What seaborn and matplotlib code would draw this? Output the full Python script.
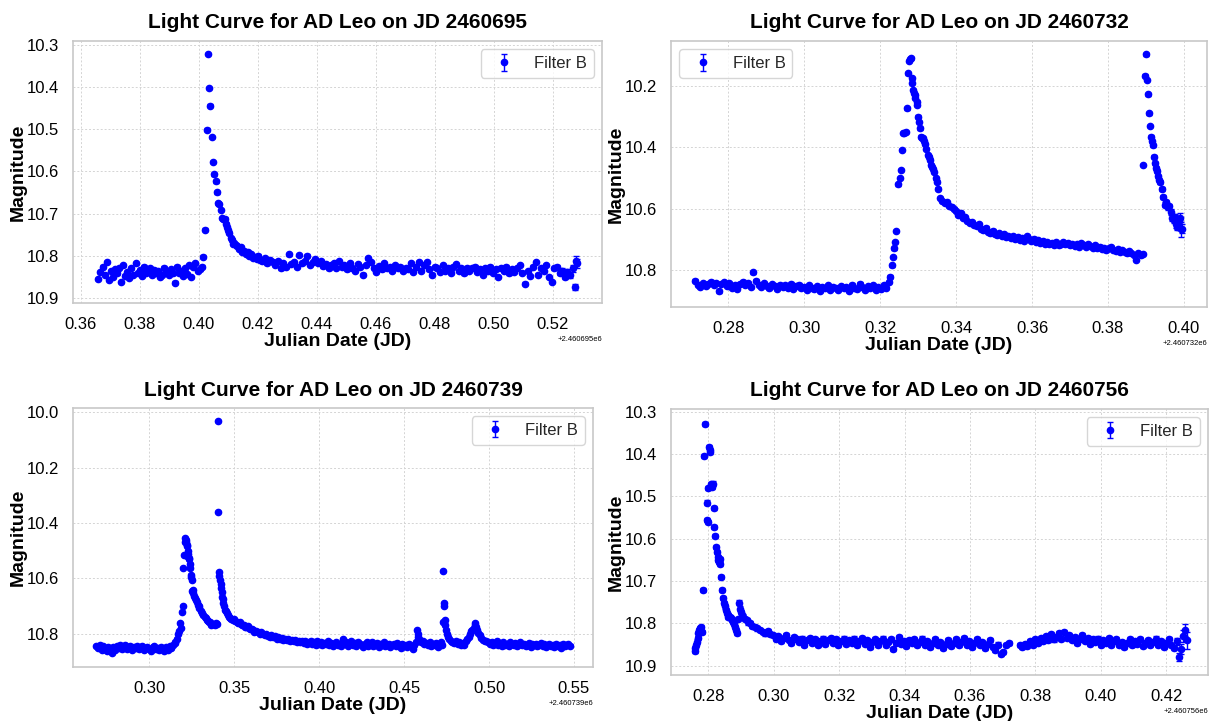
import numpy as np
import matplotlib
matplotlib.use("Agg")
import matplotlib.pyplot as plt
from matplotlib.ticker import MultipleLocator
import seaborn as sns

# ---------------- data ----------------
jd_bases = [2460695, 2460732, 2460739, 2460756]
titles = ["Light Curve for AD Leo on JD 2460695", "Light Curve for AD Leo on JD 2460732",
          "Light Curve for AD Leo on JD 2460739", "Light Curve for AD Leo on JD 2460756"]
filter_label = "Filter B"

# Panel 1 (JD 2460695)
p1_time = [
    0.3660, 0.3667, 0.3674, 0.3681, 0.3688, 0.3695, 0.3702, 0.3709, 0.3716, 0.3723,
    0.3730, 0.3737, 0.3744, 0.3751, 0.3758, 0.3765, 0.3772, 0.3779, 0.3786, 0.3793,
    0.3800, 0.3807, 0.3814, 0.3821, 0.3828, 0.3835, 0.3842, 0.3849, 0.3856, 0.3863,
    0.3870, 0.3877, 0.3884, 0.3891, 0.3898, 0.3905, 0.3912, 0.3919, 0.3926, 0.3933,
    0.3940, 0.3947, 0.3954, 0.3961, 0.3968, 0.3975, 0.3982, 0.3989, 0.3996, 0.4003,
    0.4010,
    0.4016, 0.4023, 0.4027, 0.4031, 0.4035, 0.4039, 0.4046, 0.4050, 0.4053, 0.4057,
    0.4061, 0.4066, 0.4070, 0.4074, 0.4079, 0.4083, 0.4088, 0.4092, 0.4096, 0.4100,
    0.4104, 0.4108, 0.4112, 0.4116, 0.4120, 0.4125, 0.4130, 0.4136, 0.4142, 0.4148,
    0.4154, 0.4160, 0.4166, 0.4172, 0.4178, 0.4184, 0.4190, 0.4196, 0.4202, 0.4208,
    0.4215, 0.4224, 0.4233, 0.4242, 0.4251, 0.4260, 0.4269, 0.4278, 0.4287, 0.4296,
    0.4305, 0.4314, 0.4323, 0.4332, 0.4341, 0.4350, 0.4359, 0.4368, 0.4377, 0.4386,
    0.4395, 0.4404, 0.4413, 0.4422, 0.4431, 0.4440, 0.4449, 0.4458, 0.4467, 0.4476,
    0.4485, 0.4494, 0.4503, 0.4512, 0.4521, 0.4530, 0.4539, 0.4548, 0.4557, 0.4566,
    0.4575, 0.4584, 0.4593, 0.4602, 0.4611, 0.4620, 0.4629, 0.4638, 0.4647, 0.4656,
    0.4665, 0.4674, 0.4683, 0.4692, 0.4701, 0.4710, 0.4719, 0.4728, 0.4737, 0.4746,
    0.4755, 0.4764, 0.4773, 0.4782, 0.4791, 0.4800, 0.4809, 0.4818, 0.4827, 0.4836,
    0.4845, 0.4854, 0.4863, 0.4872, 0.4881, 0.4890, 0.4899, 0.4908, 0.4917, 0.4926,
    0.4935, 0.4944, 0.4953, 0.4962, 0.4971, 0.4980, 0.4989, 0.4998, 0.5007, 0.5016,
    0.5025, 0.5034, 0.5043, 0.5052, 0.5061, 0.5070, 0.5079, 0.5088, 0.5097, 0.5106,
    0.5115, 0.5124, 0.5133, 0.5142, 0.5151, 0.5160, 0.5169, 0.5178, 0.5187, 0.5196,
    0.5205, 0.5214, 0.5223, 0.5232, 0.5241, 0.5250, 0.5259, 0.5268, 0.5274, 0.5280,
    0.5283,
]
p1_mag = [
    10.855, 10.838, 10.826, 10.845, 10.815, 10.858, 10.836, 10.850, 10.832, 10.842,
    10.829, 10.862, 10.823, 10.847, 10.838, 10.852, 10.830, 10.845, 10.818, 10.840,
    10.834, 10.848, 10.826, 10.842, 10.837, 10.829, 10.845, 10.833, 10.840, 10.836,
    10.850, 10.845, 10.828, 10.838, 10.846, 10.832, 10.842, 10.864, 10.826, 10.840,
    10.835, 10.848, 10.830, 10.844, 10.822, 10.850, 10.826, 10.818, 10.835, 10.832,
    10.826,
    10.802, 10.738, 10.501, 10.322, 10.402, 10.444, 10.518, 10.578, 10.607, 10.624,
    10.650, 10.676, 10.678, 10.692, 10.710, 10.713, 10.712, 10.724, 10.733, 10.740,
    10.745, 10.758, 10.762, 10.772, 10.770, 10.775, 10.778, 10.783, 10.780, 10.790,
    10.788, 10.795, 10.792, 10.800, 10.797, 10.805, 10.802, 10.808, 10.800, 10.810,
    10.812, 10.805, 10.818, 10.810, 10.815, 10.822, 10.812, 10.830, 10.818, 10.826,
    10.797, 10.820, 10.815, 10.826, 10.798, 10.818, 10.812, 10.800, 10.822, 10.815,
    10.808, 10.818, 10.812, 10.825, 10.820, 10.830, 10.822, 10.818, 10.828, 10.812,
    10.826, 10.822, 10.832, 10.818, 10.828, 10.835, 10.820, 10.826, 10.845, 10.822,
    10.806, 10.815, 10.828, 10.838, 10.824, 10.832, 10.818, 10.828, 10.826, 10.835,
    10.822, 10.830, 10.826, 10.836, 10.828, 10.832, 10.818, 10.838, 10.826, 10.815,
    10.835, 10.822, 10.815, 10.832, 10.845, 10.826, 10.830, 10.838, 10.822, 10.835,
    10.828, 10.840, 10.826, 10.820, 10.836, 10.830, 10.842, 10.828, 10.836, 10.830,
    10.826, 10.838, 10.832, 10.845, 10.830, 10.835, 10.826, 10.840, 10.832, 10.850,
    10.828, 10.836, 10.826, 10.842, 10.832, 10.838, 10.830, 10.822, 10.840, 10.866,
    10.836, 10.848, 10.826, 10.815, 10.845, 10.830, 10.836, 10.822, 10.850, 10.862,
    10.830, 10.826, 10.842, 10.835, 10.850, 10.838, 10.845, 10.830, 10.875, 10.812,
    10.818,
]
p1_err_base = 0.003
p1_err_tail = [0.005, 0.006, 0.006, 0.007, 0.008, 0.007, 0.012, 0.010]

# Panel 2 (JD 2460732)
p2_time = [
    0.2712, 0.2719, 0.2726, 0.2733, 0.2740, 0.2747, 0.2754, 0.2761, 0.2768, 0.2775,
    0.2782, 0.2789, 0.2796, 0.2803, 0.2810, 0.2817, 0.2824, 0.2831, 0.2838, 0.2845,
    0.2852, 0.2859, 0.2866, 0.2873, 0.2880, 0.2887, 0.2894, 0.2901, 0.2908, 0.2915,
    0.2922, 0.2929, 0.2936, 0.2943, 0.2950, 0.2957, 0.2964, 0.2971, 0.2978, 0.2985,
    0.2992, 0.2999, 0.3006, 0.3013, 0.3020, 0.3027, 0.3034, 0.3041, 0.3048, 0.3055,
    0.3062, 0.3069, 0.3076, 0.3083, 0.3090, 0.3097, 0.3104, 0.3111, 0.3118, 0.3125,
    0.3132, 0.3139, 0.3146, 0.3153, 0.3160, 0.3167, 0.3174, 0.3181, 0.3188, 0.3195,
    0.3202, 0.3209, 0.3216,
    0.3223, 0.3227, 0.3230, 0.3233, 0.3237, 0.3240, 0.3243, 0.3248, 0.3252, 0.3255,
    0.3258, 0.3261, 0.3264, 0.3267, 0.3270, 0.3274, 0.3277, 0.3279, 0.3281, 0.3283,
    0.3285, 0.3287, 0.3289, 0.3291, 0.3293, 0.3296, 0.3298, 0.3300, 0.3303, 0.3305,
    0.3308, 0.3310, 0.3313, 0.3316, 0.3318, 0.3321, 0.3325, 0.3328, 0.3331, 0.3334,
    0.3337, 0.3340, 0.3343, 0.3346, 0.3349,
    0.3352, 0.3358, 0.3364, 0.3370, 0.3376, 0.3382, 0.3388, 0.3394, 0.3400, 0.3406,
    0.3412, 0.3418, 0.3424, 0.3430, 0.3436, 0.3442, 0.3448, 0.3454, 0.3460, 0.3466,
    0.3472, 0.3478, 0.3484, 0.3490, 0.3496, 0.3502, 0.3508, 0.3514, 0.3520, 0.3526,
    0.3532, 0.3538, 0.3544, 0.3550, 0.3556, 0.3562, 0.3568, 0.3574, 0.3580, 0.3586,
    0.3592, 0.3598, 0.3604, 0.3610, 0.3616, 0.3622, 0.3628, 0.3634, 0.3640, 0.3646,
    0.3652, 0.3658, 0.3664, 0.3670, 0.3676, 0.3682, 0.3688, 0.3694, 0.3700, 0.3706,
    0.3712, 0.3718, 0.3724, 0.3730, 0.3736, 0.3742, 0.3748, 0.3754, 0.3760, 0.3766,
    0.3772, 0.3778, 0.3784, 0.3790, 0.3796, 0.3802, 0.3808, 0.3814, 0.3820, 0.3826,
    0.3832, 0.3838, 0.3844, 0.3850, 0.3856, 0.3862, 0.3868, 0.3874, 0.3880, 0.3886,
    0.3892,
    0.3893, 0.3897, 0.3900, 0.3904, 0.3906, 0.3909, 0.3911, 0.3913, 0.3916, 0.3918,
    0.3921, 0.3923, 0.3926, 0.3929, 0.3932, 0.3935, 0.3938, 0.3942, 0.3946, 0.3950,
    0.3953, 0.3956, 0.3959, 0.3962, 0.3966, 0.3970, 0.3973, 0.3976, 0.3980, 0.3983,
    0.3987, 0.3991, 0.3993, 0.3995,
]
p2_mag = [
    10.835, 10.848, 10.856, 10.842, 10.852, 10.845, 10.838, 10.850, 10.844, 10.870,
    10.846, 10.840, 10.852, 10.843, 10.858, 10.848, 10.862, 10.845, 10.838, 10.850,
    10.842, 10.855, 10.808, 10.835, 10.848, 10.856, 10.844, 10.852, 10.860, 10.846,
    10.853, 10.862, 10.848, 10.855, 10.850, 10.858, 10.845, 10.862, 10.852, 10.848,
    10.860, 10.855, 10.866, 10.850, 10.858, 10.862, 10.852, 10.868, 10.855, 10.860,
    10.850, 10.864, 10.856, 10.858, 10.866, 10.852, 10.860, 10.855, 10.868, 10.848,
    10.858, 10.862, 10.845, 10.856, 10.865, 10.852, 10.860, 10.850, 10.866, 10.855,
    10.862, 10.848, 10.858,
    10.840, 10.822, 10.785, 10.757, 10.730, 10.708, 10.673, 10.521, 10.500, 10.474,
    10.409, 10.354, 10.352, 10.350, 10.273, 10.159, 10.118, 10.112, 10.110, 10.175,
    10.190, 10.213, 10.222, 10.230, 10.238, 10.251, 10.262, 10.300, 10.318, 10.338,
    10.365, 10.368, 10.370, 10.380, 10.390, 10.405, 10.425, 10.430, 10.440, 10.458,
    10.465, 10.470, 10.480, 10.501, 10.512,
    10.535, 10.566, 10.575, 10.583, 10.578, 10.590, 10.596, 10.600, 10.608, 10.620,
    10.615, 10.631, 10.628, 10.640, 10.648, 10.644, 10.655, 10.658, 10.650, 10.665,
    10.670, 10.662, 10.675, 10.680, 10.672, 10.684, 10.686, 10.680, 10.690, 10.684,
    10.692, 10.688, 10.696, 10.690, 10.700, 10.694, 10.702, 10.696, 10.704, 10.690,
    10.700, 10.706, 10.698, 10.708, 10.702, 10.712, 10.706, 10.714, 10.708, 10.716,
    10.712, 10.718, 10.710, 10.720, 10.714, 10.708, 10.716, 10.712, 10.720, 10.714,
    10.722, 10.716, 10.724, 10.712, 10.720, 10.726, 10.716, 10.722, 10.728, 10.720,
    10.730, 10.724, 10.732, 10.728, 10.736, 10.730, 10.726, 10.734, 10.738, 10.732,
    10.742, 10.736, 10.740, 10.746, 10.738, 10.744, 10.750, 10.768, 10.745, 10.752,
    10.748,
    10.458, 10.166, 10.097, 10.180, 10.227, 10.289, 10.330, 10.365, 10.380, 10.393,
    10.430, 10.452, 10.468, 10.478, 10.495, 10.505, 10.512, 10.535, 10.561, 10.588,
    10.580, 10.590, 10.596, 10.593, 10.610, 10.630, 10.637, 10.627, 10.650, 10.659,
    10.640, 10.630, 10.668, 10.665,
]
p2_err_base = 0.004
p2_err_tail = [
    0.004, 0.004, 0.004, 0.004, 0.004, 0.004, 0.004, 0.005, 0.005, 0.005,
    0.005, 0.005, 0.006, 0.006, 0.006, 0.006, 0.007, 0.007, 0.007, 0.008,
    0.008, 0.008, 0.009, 0.009, 0.010, 0.010, 0.010, 0.011, 0.012, 0.012,
    0.013, 0.015, 0.025, 0.015,
]

# Panel 3 (JD 2460739)
p3_time = [
    0.2690, 0.2700, 0.2710, 0.2720, 0.2730, 0.2740, 0.2750, 0.2760, 0.2770, 0.2780,
    0.2790, 0.2800, 0.2810, 0.2820, 0.2830, 0.2840, 0.2850, 0.2860, 0.2870, 0.2880,
    0.2890, 0.2900, 0.2910, 0.2920, 0.2930, 0.2940, 0.2950, 0.2960, 0.2970, 0.2980,
    0.2990, 0.3000, 0.3010, 0.3020, 0.3030, 0.3040, 0.3050, 0.3060, 0.3070, 0.3080,
    0.3090, 0.3100, 0.3110, 0.3120, 0.3130, 0.3140, 0.3150,
    0.3155, 0.3162, 0.3168, 0.3175, 0.3182, 0.3188, 0.3192, 0.3197, 0.3202, 0.3206,
    0.3209, 0.3212, 0.3215, 0.3218, 0.3221, 0.3223, 0.3225, 0.3228, 0.3231, 0.3233,
    0.3235, 0.3238, 0.3241, 0.3245, 0.3248, 0.3251, 0.3254, 0.3257, 0.3261, 0.3265,
    0.3270, 0.3275, 0.3280, 0.3286, 0.3291, 0.3296, 0.3303, 0.3310, 0.3318, 0.3326,
    0.3332, 0.3339, 0.3346, 0.3352, 0.3359, 0.3365, 0.3372, 0.3378, 0.3385, 0.3391,
    0.3398,
    0.3405, 0.3408, 0.3411, 0.3414, 0.3417, 0.3420, 0.3423, 0.3426, 0.3429, 0.3433,
    0.3437, 0.3441, 0.3446, 0.3451, 0.3457, 0.3463, 0.3470, 0.3477, 0.3484, 0.3492,
    0.3500, 0.3508, 0.3516, 0.3524, 0.3532, 0.3540, 0.3548, 0.3556, 0.3564, 0.3572,
    0.3580, 0.3588, 0.3596, 0.3604, 0.3612, 0.3620, 0.3630, 0.3640, 0.3650, 0.3660,
    0.3670, 0.3680, 0.3690, 0.3700, 0.3710, 0.3720, 0.3730, 0.3740, 0.3750, 0.3760,
    0.3770, 0.3780, 0.3790, 0.3800, 0.3810, 0.3820, 0.3830, 0.3840, 0.3850, 0.3860,
    0.3870, 0.3880, 0.3890, 0.3900,
    0.3910, 0.3920, 0.3930, 0.3940, 0.3950, 0.3960, 0.3970, 0.3980, 0.3990, 0.4000,
    0.4010, 0.4020, 0.4030, 0.4040, 0.4050, 0.4060, 0.4070, 0.4080, 0.4090, 0.4100,
    0.4110, 0.4120, 0.4130, 0.4140, 0.4150, 0.4160, 0.4170, 0.4180, 0.4190, 0.4200,
    0.4210, 0.4220, 0.4230, 0.4240, 0.4250, 0.4260, 0.4270, 0.4280, 0.4290, 0.4300,
    0.4310, 0.4320, 0.4330, 0.4340, 0.4350, 0.4360, 0.4370, 0.4380, 0.4390, 0.4400,
    0.4410, 0.4420, 0.4430, 0.4440, 0.4450, 0.4460, 0.4470, 0.4480, 0.4490, 0.4500,
    0.4510, 0.4520, 0.4530, 0.4540, 0.4550, 0.4560,
    0.4570, 0.4575, 0.4580, 0.4585, 0.4590, 0.4600, 0.4610, 0.4620, 0.4630, 0.4640,
    0.4650, 0.4660, 0.4670, 0.4680, 0.4690, 0.4700, 0.4710, 0.4720, 0.4725,
    0.4730, 0.4732, 0.4735, 0.4737, 0.4740, 0.4743, 0.4747, 0.4752, 0.4758, 0.4765,
    0.4775, 0.4785, 0.4795, 0.4805, 0.4815, 0.4825, 0.4835, 0.4845, 0.4855, 0.4865,
    0.4872, 0.4880, 0.4888, 0.4895, 0.4902, 0.4910, 0.4915, 0.4920, 0.4925, 0.4930,
    0.4938, 0.4945, 0.4955, 0.4965, 0.4975, 0.4985, 0.4995,
    0.5005, 0.5015, 0.5025, 0.5035, 0.5045, 0.5055, 0.5065, 0.5075, 0.5085, 0.5095,
    0.5105, 0.5115, 0.5125, 0.5135, 0.5145, 0.5155, 0.5165, 0.5175, 0.5185, 0.5195,
    0.5205, 0.5215, 0.5225, 0.5235, 0.5245, 0.5255, 0.5265, 0.5275, 0.5285, 0.5295,
    0.5305, 0.5315, 0.5325, 0.5335, 0.5345, 0.5355, 0.5365, 0.5375, 0.5385, 0.5395,
    0.5405, 0.5415, 0.5425, 0.5435, 0.5445, 0.5455, 0.5465, 0.5475,
]
p3_mag = [
    10.845, 10.852, 10.840, 10.858, 10.846, 10.855, 10.862, 10.848, 10.856, 10.872,
    10.850, 10.858, 10.845, 10.852, 10.840, 10.855, 10.848, 10.842, 10.856, 10.850,
    10.845, 10.858, 10.848, 10.852, 10.844, 10.856, 10.850, 10.846, 10.858, 10.852,
    10.848, 10.855, 10.862, 10.850, 10.844, 10.856, 10.852, 10.860, 10.848, 10.856,
    10.862, 10.850, 10.858, 10.846, 10.852, 10.840, 10.835,
    10.830, 10.820, 10.800, 10.790, 10.763, 10.780, 10.723, 10.700, 10.564, 10.516,
    10.470, 10.455, 10.462, 10.467, 10.520, 10.478, 10.485, 10.500, 10.514, 10.525,
    10.530, 10.548, 10.562, 10.588, 10.596, 10.606, 10.645, 10.642, 10.652, 10.665,
    10.670, 10.677, 10.686, 10.695, 10.700, 10.707, 10.718, 10.727, 10.733, 10.739,
    10.745, 10.751, 10.756, 10.760, 10.760, 10.768, 10.764, 10.766, 10.770, 10.762,
    10.766,
    10.359, 10.030, 10.576, 10.590, 10.606, 10.620, 10.636, 10.650, 10.666, 10.676,
    10.691, 10.700, 10.713, 10.720, 10.727, 10.733, 10.739, 10.742, 10.746, 10.751,
    10.748, 10.755, 10.758, 10.762, 10.760, 10.766, 10.770, 10.768, 10.775, 10.778,
    10.772, 10.780, 10.785, 10.782, 10.788, 10.793, 10.790, 10.796, 10.800, 10.795,
    10.803, 10.806, 10.800, 10.808, 10.812, 10.805, 10.814, 10.810, 10.818, 10.814,
    10.820, 10.816, 10.822, 10.818, 10.824, 10.820, 10.826, 10.822, 10.828, 10.824,
    10.830, 10.826, 10.832, 10.828,
    10.834, 10.828, 10.838, 10.830, 10.826, 10.836, 10.832, 10.840, 10.828, 10.836,
    10.830, 10.842, 10.834, 10.838, 10.828, 10.840, 10.834, 10.844, 10.836, 10.830,
    10.842, 10.836, 10.846, 10.820, 10.838, 10.832, 10.844, 10.836, 10.828, 10.840,
    10.834, 10.846, 10.830, 10.838, 10.842, 10.850, 10.836, 10.830, 10.844, 10.838,
    10.832, 10.846, 10.840, 10.834, 10.848, 10.838, 10.842, 10.832, 10.846, 10.840,
    10.836, 10.850, 10.842, 10.838, 10.846, 10.834, 10.844, 10.852, 10.838, 10.846,
    10.840, 10.850, 10.836, 10.844, 10.856, 10.842,
    10.830, 10.787, 10.800, 10.812, 10.820, 10.832, 10.828, 10.838, 10.834, 10.842,
    10.830, 10.846, 10.836, 10.840, 10.834, 10.848, 10.838, 10.832, 10.842,
    10.760, 10.574, 10.690, 10.702, 10.751, 10.769, 10.787, 10.800, 10.812, 10.820,
    10.826, 10.830, 10.834, 10.828, 10.836, 10.832, 10.840, 10.834, 10.842, 10.828,
    10.820, 10.812, 10.800, 10.792, 10.788, 10.780, 10.768, 10.763, 10.775, 10.787,
    10.798, 10.805, 10.815, 10.822, 10.828, 10.826, 10.832,
    10.836, 10.830, 10.840, 10.834, 10.828, 10.842, 10.836, 10.846, 10.832, 10.840,
    10.836, 10.844, 10.830, 10.838, 10.842, 10.834, 10.846, 10.838, 10.832, 10.842,
    10.836, 10.844, 10.840, 10.834, 10.848, 10.838, 10.842, 10.836, 10.846, 10.840,
    10.834, 10.844, 10.838, 10.848, 10.842, 10.836, 10.846, 10.840, 10.850, 10.838,
    10.846, 10.840, 10.852, 10.836, 10.846, 10.842, 10.838, 10.844,
]
p3_err_base = 0.003
p3_err_tail = [0.004, 0.004, 0.005]

# Panel 4 (JD 2460756)
p4_time = [
    0.2758, 0.2760, 0.2762, 0.2765, 0.2768, 0.2770, 0.2773, 0.2775, 0.2778, 0.2780,
    0.2784, 0.2786, 0.2790, 0.2795, 0.2797, 0.2799, 0.2800, 0.2802, 0.2804, 0.2806,
    0.2808, 0.2810, 0.2813, 0.2816, 0.2818, 0.2821, 0.2823, 0.2826, 0.2829, 0.2831,
    0.2833, 0.2836, 0.2837, 0.2839, 0.2843, 0.2846, 0.2849, 0.2851, 0.2853, 0.2856,
    0.2859, 0.2861, 0.2865, 0.2869, 0.2873, 0.2877, 0.2880, 0.2882, 0.2885, 0.2887,
    0.2891, 0.2894, 0.2897, 0.2900, 0.2903, 0.2907, 0.2912, 0.2917, 0.2922, 0.2928,
    0.2935, 0.2943, 0.2950, 0.2959, 0.2966, 0.2974, 0.2982, 0.2990, 0.2998,
    0.3006, 0.3014, 0.3022, 0.3030, 0.3038, 0.3046, 0.3054, 0.3062, 0.3070, 0.3078,
    0.3086, 0.3094, 0.3102, 0.3110, 0.3118, 0.3126, 0.3134, 0.3142, 0.3150, 0.3158,
    0.3166, 0.3174, 0.3182, 0.3190, 0.3198, 0.3206, 0.3214, 0.3222, 0.3230, 0.3238,
    0.3246, 0.3254, 0.3262, 0.3270, 0.3278, 0.3286, 0.3294, 0.3302, 0.3310, 0.3318,
    0.3326, 0.3334, 0.3342, 0.3350, 0.3358, 0.3366, 0.3374, 0.3382, 0.3390, 0.3398,
    0.3406, 0.3414, 0.3422, 0.3430, 0.3438, 0.3446, 0.3454, 0.3462, 0.3470, 0.3478,
    0.3486, 0.3494, 0.3502, 0.3510, 0.3518, 0.3526, 0.3534, 0.3542, 0.3550, 0.3558,
    0.3566, 0.3574, 0.3582, 0.3590, 0.3598, 0.3606, 0.3614, 0.3622, 0.3630, 0.3638,
    0.3646, 0.3654, 0.3662, 0.3670, 0.3678, 0.3686, 0.3694, 0.3702, 0.3710, 0.3718,
    0.3752, 0.3760, 0.3768, 0.3776, 0.3784, 0.3792, 0.3800, 0.3808, 0.3816, 0.3824,
    0.3832, 0.3840, 0.3848, 0.3856, 0.3864, 0.3872, 0.3880, 0.3888, 0.3896, 0.3904,
    0.3912, 0.3920, 0.3928, 0.3936, 0.3944, 0.3952, 0.3960, 0.3968, 0.3976, 0.3984,
    0.3992, 0.4000, 0.4008, 0.4016, 0.4024, 0.4032, 0.4040, 0.4048, 0.4056, 0.4064,
    0.4072, 0.4080, 0.4088, 0.4096, 0.4104, 0.4112, 0.4120, 0.4128, 0.4136, 0.4144,
    0.4152, 0.4160, 0.4168, 0.4176, 0.4184, 0.4192, 0.4200, 0.4208, 0.4216, 0.4224,
    0.4232, 0.4240, 0.4246, 0.4252, 0.4258, 0.4265,
]
p4_mag = [
    10.859, 10.865, 10.851, 10.843, 10.835, 10.824, 10.815, 10.812, 10.808, 10.820,
    10.721, 10.405, 10.329, 10.515, 10.556, 10.560, 10.481, 10.384, 10.395, 10.390,
    10.472, 10.477, 10.470, 10.528, 10.572, 10.594, 10.620, 10.632, 10.643, 10.650,
    10.655, 10.660, 10.648, 10.690, 10.721, 10.740, 10.752, 10.760, 10.768, 10.776,
    10.780, 10.784, 10.786, 10.788, 10.792, 10.796, 10.802, 10.808, 10.815, 10.823,
    10.790, 10.751, 10.765, 10.773, 10.780, 10.784, 10.790, 10.792, 10.798, 10.800,
    10.806, 10.808, 10.812, 10.816, 10.820, 10.824, 10.818, 10.826, 10.828,
    10.836, 10.830, 10.842, 10.834, 10.828, 10.840, 10.846, 10.832, 10.838, 10.844,
    10.836, 10.850, 10.840, 10.834, 10.846, 10.838, 10.852, 10.842, 10.836, 10.848,
    10.840, 10.834, 10.846, 10.838, 10.852, 10.842, 10.836, 10.848, 10.840, 10.846,
    10.836, 10.850, 10.842, 10.834, 10.848, 10.840, 10.856, 10.844, 10.838, 10.850,
    10.842, 10.836, 10.852, 10.844, 10.838, 10.860, 10.846, 10.832, 10.848, 10.842,
    10.854, 10.840, 10.846, 10.838, 10.852, 10.844, 10.836, 10.850, 10.842, 10.856,
    10.846, 10.838, 10.852, 10.844, 10.858, 10.848, 10.840, 10.854, 10.846, 10.838,
    10.852, 10.844, 10.834, 10.850, 10.842, 10.856, 10.846, 10.838, 10.852, 10.844,
    10.858, 10.848, 10.840, 10.856, 10.862, 10.850, 10.872, 10.868, 10.852, 10.846,
    10.852, 10.856, 10.848, 10.854, 10.842, 10.850, 10.838, 10.846, 10.834, 10.842,
    10.830, 10.840, 10.826, 10.838, 10.832, 10.824, 10.836, 10.820, 10.834, 10.828,
    10.840, 10.832, 10.846, 10.836, 10.828, 10.842, 10.834, 10.848, 10.838, 10.844,
    10.836, 10.850, 10.840, 10.846, 10.834, 10.852, 10.842, 10.838, 10.850, 10.844,
    10.856, 10.846, 10.838, 10.852, 10.842, 10.848, 10.838, 10.854, 10.846, 10.840,
    10.852, 10.844, 10.836, 10.850, 10.842, 10.856, 10.846, 10.838, 10.852, 10.858,
    10.842, 10.880, 10.860, 10.830, 10.816, 10.840,
]
p4_err_base = 0.005
p4_err_tail = [0.008, 0.010, 0.012, 0.015, 0.015, 0.020]

# ---------------- layout (pixel boxes: left, top, right, bottom) ----------------
W, H = 1209, 721
boxes = [(73, 41, 602, 303), (671, 41, 1207, 307), (73, 408, 593, 667), (671, 409, 1208, 675)]
xlims = [(0.3574, 0.5367), (0.2649, 0.4061), (0.2552, 0.5612), (0.2686, 0.4328)]
ylims = [(10.912, 10.291), (10.921, 10.053), (10.921, 9.984), (10.922, 10.294)]
xsteps = [0.02, 0.02, 0.05, 0.02]
ysteps = [0.1, 0.2, 0.2, 0.1]
legend_locs = ["upper right", "upper left", "upper right", "upper right"]

sns.set_theme(style="whitegrid")
plt.rcParams["font.family"] = ["Liberation Sans", "DejaVu Sans"]

fig = plt.figure(figsize=(W / 100, H / 100), dpi=100)

panels = [
    (p1_time, p1_mag, p1_err_base, p1_err_tail),
    (p2_time, p2_mag, p2_err_base, p2_err_tail),
    (p3_time, p3_mag, p3_err_base, p3_err_tail),
    (p4_time, p4_mag, p4_err_base, p4_err_tail),
]

for i, (t, m, eb, et) in enumerate(panels):
    n = min(len(t), len(m))
    if len(t) != len(m):
        print("length mismatch panel", i + 1, len(t), len(m))
    t = np.asarray(t[:n]) + jd_bases[i]
    m = np.asarray(m[:n])
    err = np.full(n, eb)
    err[n - len(et):] = et
    l, tp, r, b = boxes[i]
    ax = fig.add_axes([l / W, 1 - b / H, (r - l) / W, (b - tp) / H])
    ax.errorbar(t, m, yerr=err, fmt="o", color="blue", ecolor="blue",
                markersize=4.5, capsize=2, elinewidth=1, capthick=1,
                label=filter_label, zorder=3)
    ax.set_xlim(jd_bases[i] + xlims[i][0], jd_bases[i] + xlims[i][1])
    ax.set_ylim(*ylims[i])
    ax.xaxis.set_major_locator(MultipleLocator(xsteps[i]))
    ax.yaxis.set_major_locator(MultipleLocator(ysteps[i]))
    ax.grid(True, linestyle=(0, (2, 2)), linewidth=0.7, color="#d4d4d4")
    for sp in ax.spines.values():
        sp.set_color("#c8c8c8")
        sp.set_linewidth(1.2)
    ax.tick_params(axis="both", labelsize=12, colors="black", pad=4)
    ax.xaxis.get_offset_text().set_fontsize(5.5)
    ax.set_title(titles[i], fontsize=15, fontweight="bold", color="black", pad=9)
    ax.set_xlabel("Julian Date (JD)", fontsize=14, fontweight="bold", color="black", labelpad=1)
    ax.set_ylabel("Magnitude", fontsize=14, fontweight="bold", color="black", labelpad=0)
    ax.legend(loc=legend_locs[i], fontsize=12, frameon=True, edgecolor="#cccccc")

fig.savefig("out.png", dpi=100)
